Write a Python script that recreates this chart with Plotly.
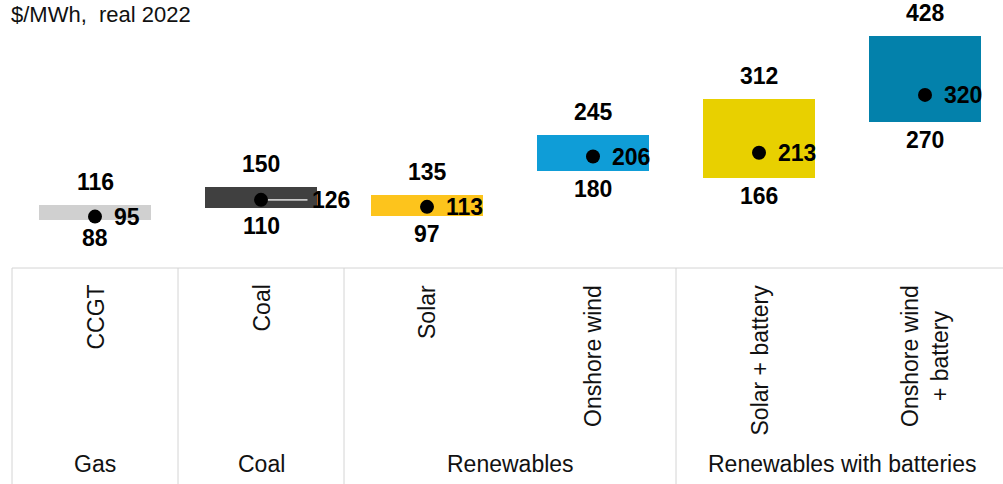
import plotly.graph_objects as go

# Levelised cost ranges by technology, $/MWh (real 2022)
categories = ["CCGT", "Coal", "Solar", "Onshore wind", "Solar + battery", "Onshore wind<br>+ battery"]
groups = ["Gas", "Coal", "Renewables", "Renewables",
          "Renewables with batteries", "Renewables with batteries"]
low = [88, 110, 97, 180, 166, 270]
mid = [95, 126, 113, 206, 213, 320]
high = [116, 150, 135, 245, 312, 428]

bar_colors = ["#d0d0d0", "#404040", "#fdc41c", "#0f9dd7", "#e8d000", "#0381ab"]
leader_category = "Coal"

W, H = 1003, 484
M_L, M_R, M_T, M_B = 12, 0, 0, 216
COL_PX = 166          # width of one category column in pixels
PX_PER_UNIT = 0.541   # vertical scale in pixels per $/MWh

plot_w = W - M_L - M_R
plot_h = H - M_T - M_B
x_range = [-0.5, -0.5 + plot_w / COL_PX]
y_range = [0, plot_h / PX_PER_UNIT]

FONT = "Liberation Sans, Arial, sans-serif"
LINE_COLOR = "#d4d4d4"

xs = list(range(len(categories)))
fig = go.Figure()

# Floating range bars
fig.add_trace(go.Bar(
    x=xs, base=low, y=[h - l for h, l in zip(high, low)],
    width=112 / COL_PX, marker=dict(color=bar_colors, line=dict(width=0)),
    hoverinfo="skip", showlegend=False,
))

# Leader line from the central estimate to its label
li = categories.index(leader_category)
fig.add_trace(go.Scatter(
    x=[li, li + 0.28], y=[mid[li], mid[li]], mode="lines",
    line=dict(color="#c8c8c8", width=1.6), hoverinfo="skip", showlegend=False,
))

# Central estimate dots
fig.add_trace(go.Scatter(
    x=xs, y=mid, mode="markers",
    marker=dict(color="black", size=14, line=dict(width=0)),
    hoverinfo="skip", showlegend=False,
))

annotations = []
val_font = dict(family=FONT, size=23, color="black")
for i in xs:
    annotations.append(dict(x=i, y=high[i], xref="x", yref="y", text=f"<b>{high[i]}</b>",
                            showarrow=False, xanchor="center", yanchor="middle",
                            yshift=23, borderpad=0, font=val_font))
    annotations.append(dict(x=i, y=low[i], xref="x", yref="y", text=f"<b>{low[i]}</b>",
                            showarrow=False, xanchor="center", yanchor="middle",
                            yshift=-18, borderpad=0, font=val_font))
    annotations.append(dict(x=i, y=mid[i], xref="x", yref="y", text=f"<b>{mid[i]}</b>",
                            showarrow=False, xanchor="left", yanchor="middle",
                            xshift=50 if i == li else 18, borderpad=0, font=val_font))

def x_paper(v):
    return (v - x_range[0]) / (x_range[1] - x_range[0])

def y_paper_px(px):
    # convert a pixel row of the page into paper coordinates
    return (plot_h + M_T - px) / plot_h

# Category labels (rotated)
for i, c in enumerate(categories):
    annotations.append(dict(x=i, y=y_paper_px(283), xref="x", yref="paper", text=c,
                            showarrow=False, textangle=-90, xanchor="center", yanchor="top",
                            align="center", font=dict(family=FONT, size=23, color="#111111")))

# Group labels and separators
shapes = []
bottom = y_paper_px(H)
shapes.append(dict(type="line", xref="paper", yref="paper", x0=0, x1=1, y0=0, y1=0,
                   line=dict(color=LINE_COLOR, width=1)))
start = 0
for i in range(1, len(groups) + 1):
    if i == len(groups) or groups[i] != groups[start]:
        annotations.append(dict(x=(start + i - 1) / 2, y=y_paper_px(464), xref="x", yref="paper",
                                text=groups[start], showarrow=False, xanchor="center",
                                yanchor="middle", font=dict(family=FONT, size=23, color="#111111")))
        xp = x_paper(start - 0.5)
        shapes.append(dict(type="line", xref="paper", yref="paper", x0=xp, x1=xp,
                           y0=0, y1=bottom, line=dict(color=LINE_COLOR, width=1)))
        start = i

# Unit label
annotations.append(dict(x=-3 / plot_w, y=y_paper_px(14), xref="paper", yref="paper",
                        text="$/MWh,\u00a0 real 2022", showarrow=False, xanchor="left",
                        yanchor="middle", font=dict(family=FONT, size=22, color="#111111")))

fig.update_layout(
    width=W, height=H,
    margin=dict(l=M_L, r=M_R, t=M_T, b=M_B, pad=0),
    paper_bgcolor="white", plot_bgcolor="white",
    xaxis=dict(range=x_range, visible=False, fixedrange=True),
    yaxis=dict(range=y_range, visible=False, fixedrange=True),
    annotations=annotations, shapes=shapes,
    bargap=0, showlegend=False,
)

fig.write_html("out.html", config={"displayModeBar": False})
